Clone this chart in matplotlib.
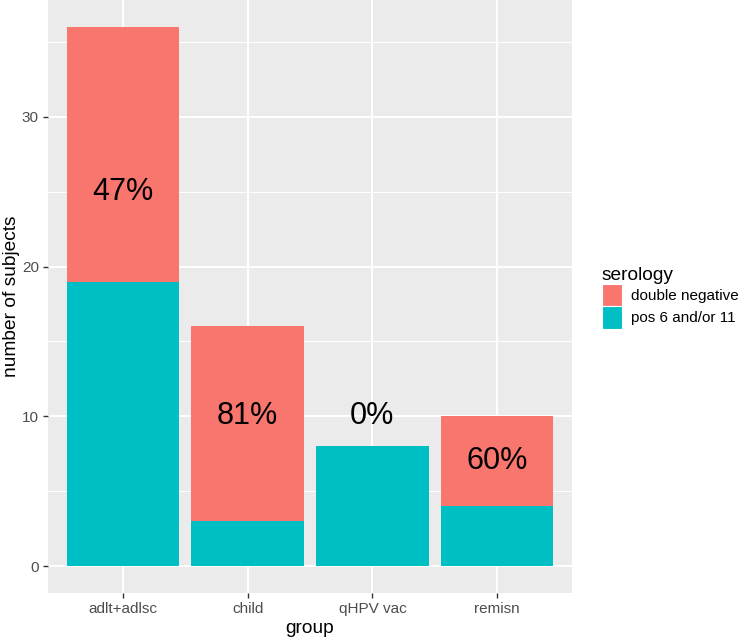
import matplotlib
matplotlib.use("Agg")
import matplotlib.pyplot as plt
from matplotlib.patches import Patch

plt.rcParams['font.family'] = ['Liberation Sans', 'DejaVu Sans']

# data
groups = ['adlt+adlsc', 'child', 'qHPV vac', 'remisn']
pos_6_11 = [19, 3, 8, 4]          # teal, bottom of stack
double_neg = [17, 13, 0, 6]       # salmon, top of stack
pct_labels = ['47%', '81%', '0%', '60%']
label_y = [25, 10, 10, 7]

pink = '#F8766D'
teal = '#00BFC4'

fig = plt.figure(figsize=(7.4, 6.41), dpi=100)
ax = fig.add_axes([48 / 740, 48 / 641, 524 / 740, 593 / 641])

x = list(range(1, len(groups) + 1))
ax.bar(x, pos_6_11, width=0.9, color=teal, zorder=2)
ax.bar(x, double_neg, width=0.9, bottom=pos_6_11, color=pink, zorder=2)

for xi, yi, lab in zip(x, label_y, pct_labels):
    ax.text(xi, yi, lab, ha='center', va='center', fontsize=22, color='black', zorder=3)

# ggplot-ish panel
ax.set_facecolor('#EBEBEB')
for s in ax.spines.values():
    s.set_visible(False)
ax.set_xlim(0.4, 4.6)
ax.set_ylim(-1.8, 37.8)
ax.set_xticks(x)
ax.set_xticklabels(groups)
ax.set_yticks([0, 10, 20, 30])
ax.set_yticks([5, 15, 25, 35], minor=True)
ax.grid(which='major', color='white', linewidth=1.4, zorder=0)
ax.grid(which='minor', axis='y', color='white', linewidth=0.7, zorder=0)
ax.set_axisbelow(True)
ax.tick_params(which='major', length=3.6, width=1.0, color='#333333',
               labelcolor='#4D4D4D', labelsize=11, pad=3)
ax.tick_params(which='minor', length=0)

ax.set_xlabel('group', fontsize=13.75, labelpad=3)
ax.set_ylabel('number of subjects', fontsize=13.75, labelpad=1.5)

handles = [Patch(facecolor=pink, edgecolor='white', linewidth=0.8, label='double negative'),
           Patch(facecolor=teal, edgecolor='white', linewidth=0.8, label='pos 6 and/or 11')]
leg = fig.legend(handles=handles, title='serology', loc='center left',
                 bbox_to_anchor=(602 / 740, 1 - 298 / 641), frameon=False,
                 fontsize=11, title_fontsize=13.75, handlelength=1.3, handleheight=1.85,
                 handletextpad=0.6, labelspacing=0.0, borderpad=0, borderaxespad=0,
                 alignment='left')

fig.savefig('out.png', dpi=100)
